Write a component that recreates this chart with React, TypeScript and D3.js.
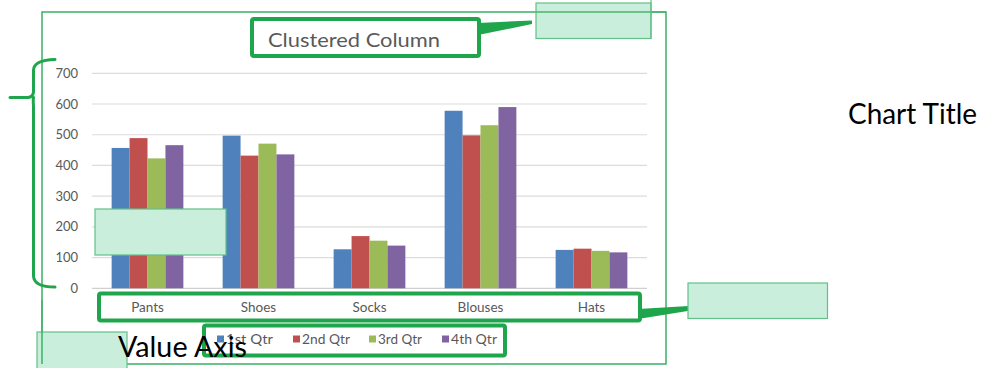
import React from 'react';
import * as d3 from 'd3';

const categories = ['Pants', 'Shoes', 'Socks', 'Blouses', 'Hats'];
const seriesNames = ['1st Qtr', '2nd Qtr', '3rd Qtr', '4th Qtr'];
const q1 = [457, 497, 127, 578, 125];
const q2 = [489, 432, 170, 498, 129];
const q3 = [423, 471, 155, 531, 122];
const q4 = [466, 436, 139, 590, 117];
const yTicks = [0, 100, 200, 300, 400, 500, 600, 700];
const colors = ['#4F81BD', '#C0504D', '#9BBB59', '#8064A2'];
const legendTextX = [226, 302, 378, 451];
const legendTextW = [47, 48, 44, 46];

const G = '#1fa64c';
const GT = '#47b56c';
const MINT = '#c9eedb';
const MINT_S = '#62c088';
const TXT = '#595959';
const FONT = 'Lato, "Open Sans", sans-serif';

export default function App() {
  const series = [q1, q2, q3, q4];
  const x0 = d3.scaleBand<string>().domain(categories).range([92, 647]).paddingInner(0).paddingOuter(0);
  const bw = x0.bandwidth();
  const barW = bw / (4 + 2.19);
  const groupW = barW * 4;
  const x1 = d3.scaleBand<number>().domain([0, 1, 2, 3]).range([(bw - groupW) / 2, (bw + groupW) / 2]).padding(0);
  const y = d3.scaleLinear().domain([0, 700]).range([288.3, 73.3]);

  return (
    <svg width={982} height={368} style={{ position: 'absolute', left: 0, top: 0, background: '#fff' }}>
      <rect x={0} y={0} width={982} height={368} fill="#fff" />
      {/* gridlines */}
      {yTicks.map((t) => (
        <line key={t} x1={92} x2={647} y1={y(t)} y2={y(t)} stroke={t === 0 ? '#d0d0d0' : '#dcdcdc'} strokeWidth={1.2} />
      ))}
      {/* tick labels */}
      {yTicks.map((t) => (
        <text key={'l' + t} x={78} y={y(t) + 4.5} textAnchor="end" fontFamily={FONT} fontSize={13} fill={TXT}>
          {t}
        </text>
      ))}
      {/* bars */}
      {categories.map((c, ci) => (
        <g key={c} transform={`translate(${x0(c)},0)`}>
          {series.map((s, si) => (
            <rect key={si} x={x1(si)} width={x1.bandwidth()} y={y(s[ci])} height={y(0) - y(s[ci])} fill={colors[si]} />
          ))}
        </g>
      ))}
      {/* category labels */}
      {categories.map((c) => (
        <text key={'c' + c} x={(x0(c) as number) + bw / 2} y={312} textAnchor="middle" fontFamily={FONT} fontSize={13.5} fill={TXT}>
          {c}
        </text>
      ))}
      {/* legend */}
      {seriesNames.map((n, i) => (
        <g key={n}>
          <rect x={legendTextX[i] - 9} y={335.5} width={7} height={7} fill={colors[i]} />
          <text x={legendTextX[i]} y={343.5} fontFamily={FONT} fontSize={13} fill={TXT} textLength={legendTextW[i]} lengthAdjust="spacingAndGlyphs">
            {n}
          </text>
        </g>
      ))}
      {/* chart title */}
      <text x={268} y={46.5} fontFamily={FONT} fontSize={19} fill={TXT} textLength={172} lengthAdjust="spacingAndGlyphs">
        Clustered Column
      </text>

      {/* outer chart border */}
      <rect x={42} y={12} width={624} height={352} fill="none" stroke={GT} strokeWidth={1.6} />

      {/* title box & pointer */}
      <rect x={252} y={19} width={227} height={37} fill="none" stroke={G} strokeWidth={4} rx={2} />
      <polygon points="478,23 532,20.5 532,24 478,35" fill={G} />
      <rect x={536} y={3} width={115} height={35.5} fill={MINT} stroke={MINT_S} strokeWidth={1.2} />
      <line x1={536} x2={666} y1={12} y2={12} stroke={GT} strokeWidth={1.4} />
      <line x1={651} x2={651} y1={0} y2={38.5} stroke={MINT_S} strokeWidth={1.2} />

      {/* category axis box & pointer */}
      <rect x={99} y={293.5} width={541} height={27} fill="none" stroke={G} strokeWidth={4} rx={2} />
      <polygon points="638,309 697,305.5 697,309.5 638,319" fill={G} />
      <rect x={688} y={283} width={139.5} height={35.5} fill={MINT} stroke={MINT_S} strokeWidth={1.2} />

      {/* legend box */}
      <rect x={204} y={325.5} width={301} height={30} fill="none" stroke={G} strokeWidth={4} rx={2} />

      {/* in-plot mint box */}
      <rect x={95} y={209} width={131} height={46} fill={MINT} stroke={MINT_S} strokeWidth={1.2} />

      {/* bottom-left mint box */}
      <rect x={37} y={332} width={90} height={40} fill={MINT} stroke={MINT_S} strokeWidth={1.2} />
      <line x1={42} x2={42} y1={300} y2={364} stroke={GT} strokeWidth={1.6} />

      {/* left brace */}
      <path
        d="M55,59.5 Q34,60 33.5,70 L33.5,92 Q33,97 28,97.5 L10,97.5 M33.5,97.5 Q33,100 33.5,106 L33.5,276 Q34,287 55,287"
        fill="none"
        stroke={G}
        strokeWidth={3}
        strokeLinecap="round"
        strokeLinejoin="round"
      />

      {/* annotation labels */}
      <text x={848} y={124} fontFamily={FONT} fontSize={29} fill="#000" textLength={129} lengthAdjust="spacingAndGlyphs">
        Chart Title
      </text>
      <text x={118} y={357} fontFamily={FONT} fontSize={29} fill="#000" textLength={129} lengthAdjust="spacingAndGlyphs">
        Value Axis
      </text>
    </svg>
  );
}
